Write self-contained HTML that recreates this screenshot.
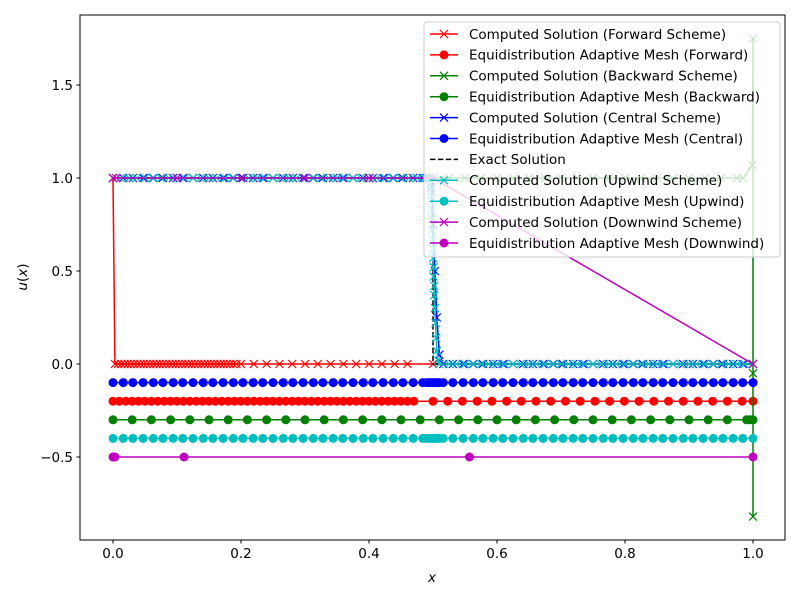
<!DOCTYPE html>
<html><head><meta charset="utf-8"><style>
body{margin:0;background:#fff}
svg{display:block;font-family:"DejaVu Sans","Liberation Sans",sans-serif}
</style></head><body>
<svg id="chart" width="800" height="600"></svg>
<script>
const yTicks=[-0.5,0,0.5,1.0,1.5];
const yTickLabels=["\u22120.5","0.0","0.5","1.0","1.5"];
const xTicks=[0,0.2,0.4,0.6,0.8,1.0];
const xTickLabels=["0.0","0.2","0.4","0.6","0.8","1.0"];

const forwardX=[0,0.003,0.008,0.013,0.018,0.023,0.028,0.033,0.038,0.043,0.048,0.053,0.058,0.063,0.068,0.073,0.078,0.083,0.088,0.093,0.098,0.103,0.108,0.113,0.118,0.123,0.128,0.133,0.138,0.143,0.148,0.153,0.158,0.163,0.168,0.173,0.178,0.183,0.188,0.193,0.2,0.22,0.24,0.26,0.28,0.3,0.32,0.34,0.36,0.38,0.4,0.42,0.44,0.46,0.5,0.55,0.6,0.65,0.7,0.75,0.8,0.85,0.9,0.95,1];
const forwardY=[1,0,0,0,0,0,0,0,0,0,0,0,0,0,0,0,0,0,0,0,0,0,0,0,0,0,0,0,0,0,0,0,0,0,0,0,0,0,0,0,0,0,0,0,0,0,0,0,0,0,0,0,0,0,0,0,0,0,0,0,0,0,0,0,0];
const backwardX=[0,0.025,0.05,0.075,0.1,0.125,0.15,0.175,0.2,0.225,0.25,0.275,0.3,0.325,0.35,0.375,0.4,0.425,0.45,0.475,0.5,0.525,0.55,0.575,0.6,0.625,0.65,0.675,0.7,0.725,0.75,0.775,0.8,0.825,0.85,0.875,0.9,0.925,0.95,0.975,0.985,0.999,1,1,1];
const backwardY=[1,1,1,1,1,1,1,1,1,1,1,1,1,1,1,1,1,1,1,1,1,1,1,1,1,1,1,1,1,1,1,1,1,1,1,1,1,1,1,1,1,1.07,1.75,-0.82,-0.05];
const centralX=[0,0.016,0.031,0.047,0.063,0.078,0.094,0.109,0.125,0.141,0.156,0.172,0.188,0.203,0.219,0.234,0.25,0.266,0.281,0.297,0.313,0.328,0.344,0.359,0.375,0.391,0.406,0.422,0.438,0.453,0.469,0.484,0.49,0.494,0.497,0.5,0.503,0.506,0.51,0.516,0.531,0.547,0.563,0.578,0.594,0.609,0.625,0.641,0.656,0.672,0.688,0.703,0.719,0.734,0.75,0.766,0.781,0.797,0.813,0.828,0.844,0.859,0.875,0.891,0.906,0.922,0.938,0.953,0.969,0.984,1];
const centralY=[1,1,1,1,1,1,1,1,1,1,1,1,1,1,1,1,1,1,1,1,1,1,1,1,1,1,1,1,1,1,1,1,1,1,0.95,0.75,0.5,0.25,0.05,0,0,0,0,0,0,0,0,0,0,0,0,0,0,0,0,0,0,0,0,0,0,0,0,0,0,0,0,0,0,0,0];
const upwindX=[0,0.012,0.025,0.037,0.05,0.062,0.075,0.087,0.1,0.112,0.125,0.137,0.15,0.162,0.175,0.187,0.2,0.212,0.225,0.237,0.25,0.262,0.275,0.287,0.3,0.312,0.325,0.337,0.35,0.362,0.375,0.387,0.4,0.412,0.425,0.437,0.45,0.462,0.475,0.487,0.495,0.496,0.497,0.497,0.498,0.498,0.499,0.499,0.5,0.5,0.501,0.501,0.502,0.502,0.503,0.504,0.505,0.506,0.508,0.51,0.525,0.537,0.55,0.562,0.575,0.587,0.6,0.612,0.625,0.637,0.65,0.662,0.675,0.687,0.7,0.712,0.725,0.737,0.75,0.762,0.775,0.787,0.8,0.812,0.825,0.837,0.85,0.862,0.875,0.887,0.9,0.912,0.925,0.937,0.95,0.962,0.975,0.987,1];
const upwindY=[1,1,1,1,1,1,1,1,1,1,1,1,1,1,1,1,1,1,1,1,1,1,1,1,1,1,1,1,1,1,1,1,1,1,1,1,1,1,1,1,1,0.97,0.93,0.88,0.83,0.78,0.72,0.67,0.62,0.57,0.52,0.47,0.42,0.37,0.3,0.22,0.14,0.07,0.02,0,0,0,0,0,0,0,0,0,0,0,0,0,0,0,0,0,0,0,0,0,0,0,0,0,0,0,0,0,0,0,0,0,0,0,0,0,0,0,0];
const downwindX=[0,0.005,0.1,0.2,0.3,0.4,0.5,1];
const downwindY=[1,1,1,1,1,1,1,0];
const exactX=[0,0.5,0.5,1];
const exactY=[1,1,0,0];

const forwardMeshX=[0,0.01,0.02,0.03,0.04,0.05,0.06,0.07,0.08,0.09,0.1,0.11,0.12,0.13,0.14,0.15,0.16,0.17,0.18,0.19,0.2,0.21,0.22,0.23,0.24,0.25,0.26,0.27,0.28,0.29,0.3,0.31,0.32,0.33,0.34,0.35,0.36,0.37,0.38,0.39,0.4,0.41,0.42,0.43,0.44,0.45,0.46,0.47,0.5,0.523,0.546,0.569,0.592,0.615,0.638,0.661,0.684,0.707,0.73,0.753,0.776,0.799,0.822,0.845,0.868,0.891,0.914,0.937,0.96,0.983,1];
const forwardMeshY=-0.2;
const backwardMeshX=[0,0.03,0.06,0.09,0.12,0.15,0.18,0.21,0.24,0.27,0.3,0.33,0.36,0.39,0.42,0.45,0.48,0.51,0.54,0.57,0.6,0.63,0.66,0.69,0.72,0.75,0.78,0.81,0.84,0.87,0.9,0.93,0.96,0.99,0.995,1];
const backwardMeshY=-0.3;
const centralMeshX=[0,0.016,0.031,0.047,0.063,0.078,0.094,0.109,0.125,0.141,0.156,0.172,0.188,0.203,0.219,0.234,0.25,0.266,0.281,0.297,0.313,0.328,0.344,0.359,0.375,0.391,0.406,0.422,0.438,0.453,0.469,0.484,0.49,0.494,0.497,0.5,0.503,0.506,0.51,0.516,0.531,0.547,0.563,0.578,0.594,0.609,0.625,0.641,0.656,0.672,0.688,0.703,0.719,0.734,0.75,0.766,0.781,0.797,0.813,0.828,0.844,0.859,0.875,0.891,0.906,0.922,0.938,0.953,0.969,0.984,1];
const centralMeshY=-0.1;
const upwindMeshX=[0,0.016,0.031,0.047,0.063,0.078,0.094,0.109,0.125,0.141,0.156,0.172,0.188,0.203,0.219,0.234,0.25,0.266,0.281,0.297,0.313,0.328,0.344,0.359,0.375,0.391,0.406,0.422,0.438,0.453,0.469,0.484,0.49,0.494,0.497,0.5,0.503,0.506,0.51,0.516,0.531,0.547,0.563,0.578,0.594,0.609,0.625,0.641,0.656,0.672,0.688,0.703,0.719,0.734,0.75,0.766,0.781,0.797,0.813,0.828,0.844,0.859,0.875,0.891,0.906,0.922,0.938,0.953,0.969,0.984,1];
const upwindMeshY=-0.4;
const downwindMeshX=[0,0.001,0.002,0.003,0.111,0.557,1];
const downwindMeshY=-0.5;

const legendLabels=["Computed Solution (Forward Scheme)","Equidistribution Adaptive Mesh (Forward)","Computed Solution (Backward Scheme)","Equidistribution Adaptive Mesh (Backward)","Computed Solution (Central Scheme)","Equidistribution Adaptive Mesh (Central)","Exact Solution","Computed Solution (Upwind Scheme)","Equidistribution Adaptive Mesh (Upwind)","Computed Solution (Downwind Scheme)","Equidistribution Adaptive Mesh (Downwind)"];

const L=80,R=785,T=15,B=540;
function sx(v){return 113+v*640;}
function sy(v){return 364-v*186;}
const NS="http://www.w3.org/2000/svg";
const svg=document.getElementById('chart');
function mk(tag,attrs,parent){const e=document.createElementNS(NS,tag);for(const k in attrs)e.setAttribute(k,attrs[k]);(parent||svg).appendChild(e);return e;}

const plot=mk('g',{});



function drawLine(xs,ys,color,marker,name,dash){
  const g=mk('g',{},plot);
  
  
  const pts=xs.map((x,i)=>sx(x)+','+sy(ys[i])).join(' ');
  const pl=mk('polyline',{points:pts,fill:'none',stroke:color,'stroke-width':1.5},g);
  if(dash)pl.setAttribute('stroke-dasharray','5.5,2.4');
  
  
  xs.forEach((x,i)=>{
    const cx=sx(x),cy=sy(ys[i]);
    if(marker==='x'){
      const p=mk('path',{d:`M${cx-4},${cy-4}L${cx+4},${cy+4}M${cx-4},${cy+4}L${cx+4},${cy-4}`,stroke:color,'stroke-width':1.2,fill:'none'},g);
      
      
    } else if(marker==='o'){
      const c=mk('circle',{cx:cx,cy:cy,r:4.5,fill:color},g);
      
      
    }
  });
}
function meshYs(xs,v){return xs.map(()=>v);}

drawLine(forwardX,forwardY,'#ff0000','x','forward-solution');
drawLine(forwardMeshX,meshYs(forwardMeshX,forwardMeshY),'#ff0000','o','forward-mesh');
drawLine(backwardX,backwardY,'#008000','x','backward-solution');
drawLine(backwardMeshX,meshYs(backwardMeshX,backwardMeshY),'#008000','o','backward-mesh');
drawLine(centralX,centralY,'#0000ff','x','central-solution');
drawLine(centralMeshX,meshYs(centralMeshX,centralMeshY),'#0000ff','o','central-mesh');
drawLine(exactX,exactY,'#000000',null,'exact-solution',true);
drawLine(upwindX,upwindY,'#00bfbf','x','upwind-solution');
drawLine(upwindMeshX,meshYs(upwindMeshX,upwindMeshY),'#00bfbf','o','upwind-mesh');
drawLine(downwindX,downwindY,'#bf00bf','x','downwind-solution');
drawLine(downwindMeshX,meshYs(downwindMeshX,downwindMeshY),'#bf00bf','o','downwind-mesh');

const fr=mk('rect',{x:L,y:T,width:R-L,height:B-T,fill:'none',stroke:'#000','stroke-width':1});



yTicks.forEach((v,i)=>{
  const y=sy(v);
  const t=mk('line',{x1:L-3.5,x2:L,y1:y,y2:y,stroke:'#000'});
  
  
  const tx=mk('text',{x:L-7,y:y+4.8,'text-anchor':'end','font-size':13.5});
  tx.textContent=yTickLabels[i];
  
  
});
xTicks.forEach((v,i)=>{
  const x=sx(v);
  const t=mk('line',{x1:x,x2:x,y1:B,y2:B+3.5,stroke:'#000'});
  
  
  const tx=mk('text',{x:x,y:B+18,'text-anchor':'middle','font-size':13.5});
  tx.textContent=xTickLabels[i];
  
  
});
const xl=mk('text',{x:432,y:582,'text-anchor':'middle','font-size':13.5,'font-style':'italic'});
xl.textContent='x';


const yl=mk('text',{x:0,y:0,'text-anchor':'middle','font-size':13.5,transform:'translate(27,277) rotate(-90)'});
yl.innerHTML='<tspan font-style="italic">u</tspan>(<tspan font-style="italic">x</tspan>)';



const lg=mk('g',{});


mk('rect',{x:424,y:22,width:356,height:235,rx:3,fill:'#fff','fill-opacity':0.8,stroke:'#ccc','stroke-width':1},lg);
const legColors=['#ff0000','#ff0000','#008000','#008000','#0000ff','#0000ff','#000000','#00bfbf','#00bfbf','#bf00bf','#bf00bf'];
const legMarkers=['x','o','x','o','x','o',null,'x','o','x','o'];
legendLabels.forEach((lab,i)=>{
  const y=34+i*20.9;
  const g=mk('g',{},lg);
  
  
  const ln=mk('line',{x1:430,x2:458,y1:y,y2:y,stroke:legColors[i],'stroke-width':1.5},g);
  if(!legMarkers[i])ln.setAttribute('stroke-dasharray','5.5,2.4');
  if(legMarkers[i]==='x')mk('path',{d:`M440,${y-4}L448,${y+4}M440,${y+4}L448,${y-4}`,stroke:legColors[i],'stroke-width':1.2},g);
  if(legMarkers[i]==='o')mk('circle',{cx:444,cy:y,r:4.5,fill:legColors[i]},g);
  const t=mk('text',{x:469,y:y+4.8,'font-size':13.5},g);
  t.textContent=lab;
});
</script>
</body></html>
